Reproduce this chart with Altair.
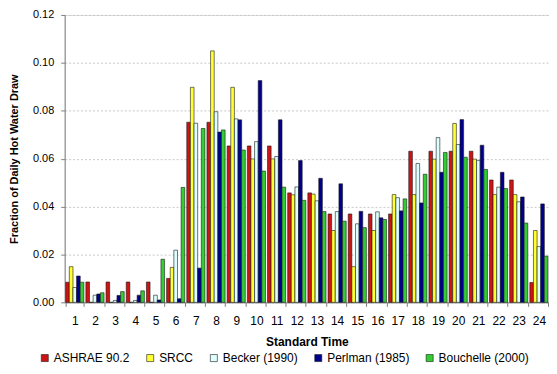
import altair as alt
import pandas as pd

hours = list(range(1, 25))
series = ["ASHRAE 90.2", "SRCC", "Becker (1990)", "Perlman (1985)", "Bouchelle (2000)"]
colors = ["#CC1414", "#FFFF33", "#DDFFFF", "#00008C", "#33CC33"]

ashrae = [0.0084, 0.0085, 0.0085, 0.0085, 0.0085, 0.0100, 0.0752, 0.0752, 0.0653, 0.0653,
          0.0653, 0.0457, 0.0457, 0.0369, 0.0369, 0.0369, 0.0369, 0.0631, 0.0631, 0.0631,
          0.0631, 0.0511, 0.0511, 0.0083]
srcc = [0.0149, 0.0, 0.0, 0.0, 0.0, 0.0146, 0.0898, 0.1050, 0.0898, 0.0599,
        0.0599, 0.0449, 0.0452, 0.0300, 0.0149, 0.0300, 0.0450, 0.0450, 0.0598, 0.0747,
        0.0598, 0.0450, 0.0450, 0.0300]
becker = [0.0062, 0.0030, 0.0008, 0.0008, 0.0030, 0.0218, 0.0748, 0.0796, 0.0766, 0.0671,
          0.0609, 0.0482, 0.0424, 0.0379, 0.0328, 0.0378, 0.0437, 0.0580, 0.0688, 0.0659,
          0.0593, 0.0481, 0.0420, 0.0233]
perlman = [0.0110, 0.0035, 0.0029, 0.0030, 0.0010, 0.0015, 0.0143, 0.0711, 0.0762, 0.0926,
           0.0762, 0.0592, 0.0518, 0.0495, 0.0380, 0.0353, 0.0382, 0.0415, 0.0543, 0.0763,
           0.0656, 0.0543, 0.0440, 0.0411]
bouchelle = [0.0084, 0.0040, 0.0045, 0.0048, 0.0180, 0.0480, 0.0726, 0.0720, 0.0636, 0.0548,
             0.0481, 0.0426, 0.0379, 0.0339, 0.0312, 0.0346, 0.0432, 0.0535, 0.0626, 0.0606,
             0.0555, 0.0475, 0.0331, 0.0193]

rows = []
for name, vals in zip(series, [ashrae, srcc, becker, perlman, bouchelle]):
    for h, v in zip(hours, vals):
        rows.append({"hour": h, "series": name, "value": v})
df = pd.DataFrame(rows)

FONT = "Liberation Sans"

chart = alt.Chart(df).mark_bar(stroke="#1a1a1a", strokeWidth=0.6).encode(
    x=alt.X("hour:O", sort=hours,
            scale=alt.Scale(paddingInner=0.1, paddingOuter=0.05),
            axis=alt.Axis(title="Standard Time", labelAngle=0, tickBand="extent",
                          labelFontSize=12, labelFont=FONT, labelColor="#000000",
                          titleFont=FONT, titleFontSize=12, titleFontWeight="bold",
                          titleColor="#000000", titlePadding=10, labelPadding=9,
                          tickSize=4, tickColor="#808080", domainColor="#808080",
                          grid=False)),
    xOffset=alt.XOffset("series:N", sort=series),
    y=alt.Y("value:Q",
            scale=alt.Scale(domain=[0, 0.12], nice=False),
            axis=alt.Axis(title="Fraction of Daily Hot Water Draw", format=".2f",
                          values=[0, 0.02, 0.04, 0.06, 0.08, 0.10, 0.12],
                          labelFontSize=11, labelFont=FONT, labelColor="#000000",
                          labelPadding=7,
                          titleFont=FONT, titleFontSize=11, titleFontWeight="bold",
                          titleColor="#000000", titlePadding=13,
                          tickSize=4, tickColor="#808080", domainColor="#808080",
                          grid=True, gridDash=[2, 2], gridColor="#C8C8C8")),
    color=alt.Color("series:N", sort=series,
                    scale=alt.Scale(domain=series, range=colors),
                    legend=alt.Legend(orient="none", legendX=-26, legendY=339,
                                      direction="horizontal", title=None,
                                      labelFont=FONT, labelFontSize=12, labelColor="#000000",
                                      symbolType="square", symbolSize=50,
                                      symbolStrokeColor="#1a1a1a", symbolStrokeWidth=0.6,
                                      symbolOpacity=1, columnPadding=14, labelOffset=3)),
).properties(
    width=487, height=289,
    autosize=alt.AutoSizeParams(type="none"),
    padding={"left": 57, "top": 6, "right": 0, "bottom": 62},
).configure_view(
    stroke="#A0A0A0", strokeWidth=1
).configure(background="white")

chart.save("out.html", embed_options={"renderer": "svg", "actions": False})
